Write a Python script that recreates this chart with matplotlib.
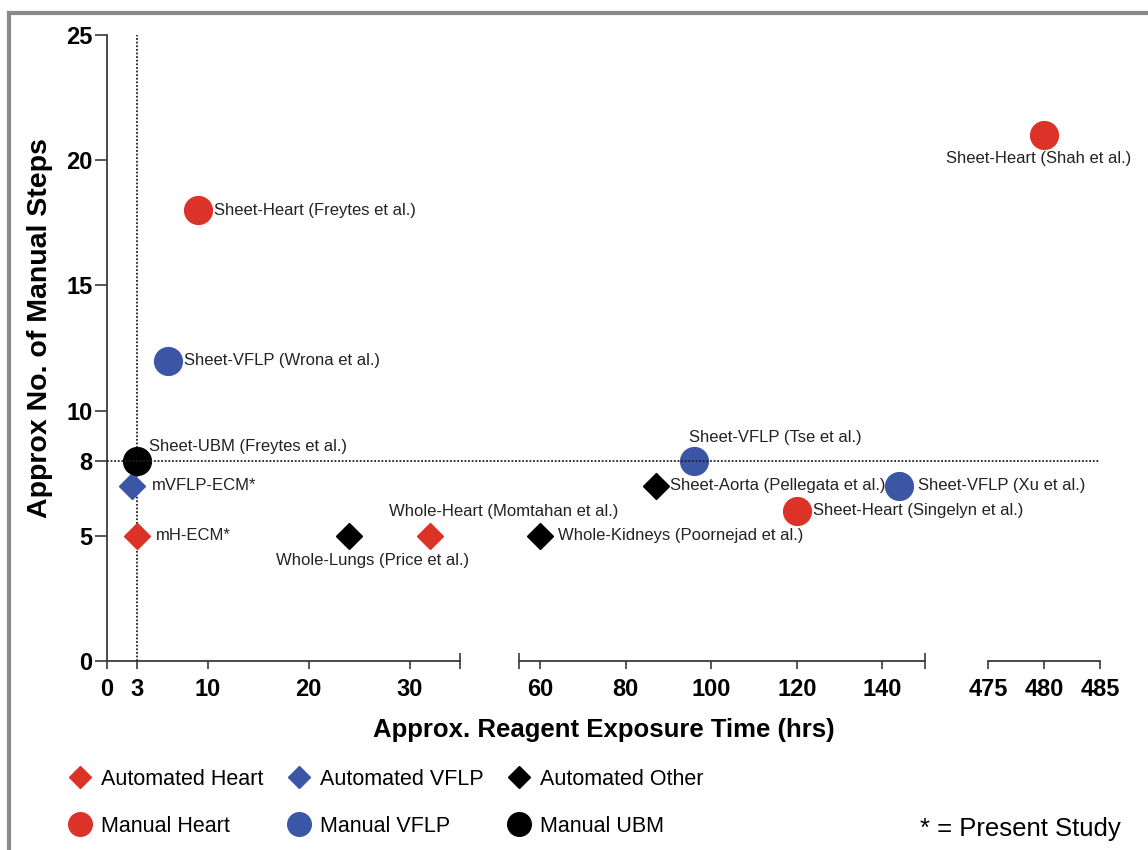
import matplotlib
matplotlib.use("Agg")
import matplotlib.pyplot as plt
from matplotlib.lines import Line2D
from matplotlib.transforms import blended_transform_factory
import numpy as np

plt.rcParams['font.family'] = ['Liberation Sans', 'DejaVu Sans']

# data
#---------------------------------------------------------------------------
auto_heart_x = [3, 32]
auto_heart_y = [5, 5]
auto_heart_lab = ["mH-ECM*", "Whole-Heart (Momtahan et al.)"]

auto_vflp_x = [2.5]
auto_vflp_y = [7]
auto_vflp_lab = ["mVFLP-ECM*"]

auto_other_x = [24, 60, 87]
auto_other_y = [5, 5, 7]
auto_other_lab = ["Whole-Lungs (Price et al.)", "Whole-Kidneys (Poornejad et al.)",
                  "Sheet-Aorta (Pellegata et al.)"]

man_heart_x = [9, 120, 480]
man_heart_y = [18, 6, 21]
man_heart_lab = ["Sheet-Heart (Freytes et al.)", "Sheet-Heart (Singelyn et al.)",
                 "Sheet-Heart (Shah et al.)"]

man_vflp_x = [6, 96, 144]
man_vflp_y = [12, 8, 7]
man_vflp_lab = ["Sheet-VFLP (Wrona et al.)", "Sheet-VFLP (Tse et al.)",
                "Sheet-VFLP (Xu et al.)"]

man_ubm_x = [3]
man_ubm_y = [8]
man_ubm_lab = ["Sheet-UBM (Freytes et al.)"]

# label placement: offset in pixels (dx, dy up) and horizontal alignment
label_pos = {
    "mH-ECM*": (19, 0, 'left'),
    "Whole-Heart (Momtahan et al.)": (74, 24, 'center'),
    "mVFLP-ECM*": (20, 0, 'left'),
    "Whole-Lungs (Price et al.)": (24, -25, 'center'),
    "Whole-Kidneys (Poornejad et al.)": (18, 0, 'left'),
    "Sheet-Aorta (Pellegata et al.)": (14, 0, 'left'),
    "Sheet-Heart (Freytes et al.)": (16, 0, 'left'),
    "Sheet-Heart (Singelyn et al.)": (16, 0, 'left'),
    "Sheet-Heart (Shah et al.)": (-5, -23, 'center'),
    "Sheet-VFLP (Wrona et al.)": (16, 0, 'left'),
    "Sheet-VFLP (Tse et al.)": (81, 23, 'center'),
    "Sheet-VFLP (Xu et al.)": (19, 0, 'left'),
    "Sheet-UBM (Freytes et al.)": (12, 14, 'left'),
}

RED = '#dc3328'
BLUE = '#3a56a5'
BLACK = '#000000'

series = [
    (auto_heart_x, auto_heart_y, auto_heart_lab, 'D', RED, 'Automated Heart'),
    (man_heart_x, man_heart_y, man_heart_lab, 'o', RED, 'Manual Heart'),
    (auto_vflp_x, auto_vflp_y, auto_vflp_lab, 'D', BLUE, 'Automated VFLP'),
    (man_vflp_x, man_vflp_y, man_vflp_lab, 'o', BLUE, 'Manual VFLP'),
    (auto_other_x, auto_other_y, auto_other_lab, 'D', BLACK, 'Automated Other'),
    (man_ubm_x, man_ubm_y, man_ubm_lab, 'o', BLACK, 'Manual UBM'),
]

# figure with broken x axis
#---------------------------------------------------------------------------
W, H = 1148, 850
fig = plt.figure(figsize=(W / 100, H / 100), dpi=100)

def px_axes(x0, x1, y0=35, y1=661):
    return fig.add_axes([x0 / W, 1 - y1 / H, (x1 - x0) / W, (y1 - y0) / H])

ax1 = px_axes(107, 460)
ax2 = px_axes(519, 925)
ax3 = px_axes(988, 1100)
axes = [ax1, ax2, ax3]

ax1.set_xlim(0, 35)
ax2.set_xlim(55, 150)
ax3.set_xlim(475, 485)
ax1.set_xticks([0, 3, 10, 20, 30])
ax2.set_xticks([60, 80, 100, 120, 140])
ax3.set_xticks([475, 480, 485])
ax1.set_xticks([35], minor=True)
ax2.set_xticks([55, 150], minor=True)
ax3.set_xticks([475], minor=True)

spine_c = '#3a3a3a'
for ax in axes:
    ax.set_ylim(0, 25)
    ax.patch.set_alpha(0)
    for s in ['top', 'right', 'left']:
        ax.spines[s].set_visible(False)
    ax.spines['bottom'].set_color(spine_c)
    ax.spines['bottom'].set_linewidth(1.3)
    ax.tick_params(axis='x', which='major', length=6, width=1.2, color=spine_c,
                   labelsize=17, pad=6)
    ax.tick_params(axis='x', which='minor', direction='inout', length=12,
                   width=1.2, color=spine_c)
    for lbl in ax.get_xticklabels():
        lbl.set_fontweight('bold')
    ax.set_yticks([])

ax1.spines['left'].set_visible(True)
ax1.spines['left'].set_color(spine_c)
ax1.spines['left'].set_linewidth(1.3)
ax1.set_yticks([0, 5, 8, 10, 15, 20, 25])
ax1.tick_params(axis='y', length=8.5, width=1.2, color=spine_c, labelsize=17, pad=2)
for lbl in ax1.get_yticklabels():
    lbl.set_fontweight('bold')

# reference lines
ax1.axvline(3, color='#222222', lw=1.3, ls=(0, (1, 1)), zorder=1)
trans = blended_transform_factory(fig.transFigure, ax1.transData)
fig.add_artist(Line2D([107 / W, 1100 / W], [8, 8], transform=trans,
                      color='#222222', lw=1.3, ls=(0, (1, 1)), zorder=1))

# points and labels
#---------------------------------------------------------------------------
handles = []
for xs, ys, labs, mk, col, name in series:
    ms = 13.5 if mk == 'D' else 20
    for i, ax in enumerate(axes):
        h, = ax.plot(xs, ys, ls='none', marker=mk, ms=ms, color=col,
                     mec=col, label=name, zorder=3)
        if i == 0:
            handles.append(h)
        for x, y, lab in zip(xs, ys, labs):
            dx, dy, ha = label_pos[lab]
            ax.annotate(lab, (x, y), xytext=(dx * 0.72, dy * 0.72),
                        textcoords='offset points', ha=ha, va='center',
                        fontsize=12, color='#222222', zorder=4)

# axis titles
fig.text(604 / W, 1 - 730 / H, 'Approx. Reagent Exposure Time (hrs)',
         ha='center', va='center', fontsize=18.5, fontweight='bold')
fig.text(40 / W, 1 - 328 / H, 'Approx No. of Manual Steps', rotation=90,
         ha='center', va='center', fontsize=20.5, fontweight='bold')

# legend
fig.legend(handles=handles, ncol=3, loc='upper left',
           bbox_to_anchor=(69 / W, 1 - 769 / H), frameon=False, fontsize=15.5,
           handlelength=1.0, handletextpad=0.47, columnspacing=1.16,
           labelspacing=1.2, borderpad=0, borderaxespad=0, markerscale=0.85)
fig.text(920 / W, 1 - 829 / H, '* = Present Study', ha='left', va='center',
         fontsize=18.5)

# outer frame (top and left edges)
fig.add_artist(Line2D([9 / W, 1.0], [1 - 13 / H, 1 - 13 / H],
                      transform=fig.transFigure, color='#8a8a8a', lw=3))
fig.add_artist(Line2D([9 / W, 9 / W], [0, 1 - 13 / H],
                      transform=fig.transFigure, color='#8a8a8a', lw=3))

fig.savefig('out.png', dpi=100)
